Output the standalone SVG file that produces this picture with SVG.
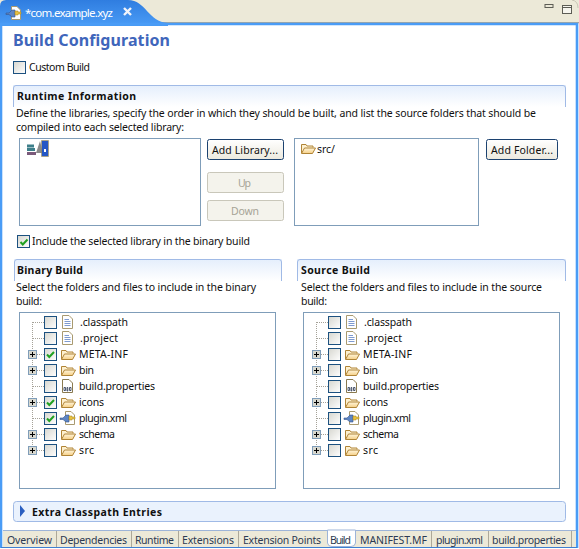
<svg xmlns="http://www.w3.org/2000/svg" xmlns:xlink="http://www.w3.org/1999/xlink" width="579" height="549" viewBox="0 0 579 549">
<style>
text{font-family:"Noto Sans","DejaVu Sans",sans-serif;font-size:10.500px;fill:#101010}
.b{font-weight:700}
.g{fill:#a6a396}
.tab{fill:#2c3a52}
.cb{fill:url(#cbg);stroke:#1c5180;stroke-width:1}
.list{fill:#fff;stroke:#7f9db9;stroke-width:1}
.sec{fill:url(#sg);stroke:none}
.edge{fill:none;stroke:#a0bae6;stroke-width:1}
.btn{fill:url(#bg);stroke:#1c4270;stroke-width:1}
.off{fill:#f4f3ec;stroke:#c9c7ba;stroke-width:1}
.dot{stroke:#a5a298;stroke-width:1;stroke-dasharray:1 1;fill:none}
.sep{stroke:#aca899;stroke-width:1}
</style>
<defs>
<linearGradient id="sg" x1="0" y1="0" x2="0" y2="1"><stop offset="0" stop-color="#e4eefc"/><stop offset="1" stop-color="#fff"/></linearGradient>
<linearGradient id="cbg" x1="0" y1="0" x2="1" y2="1"><stop offset="0" stop-color="#d6d6cf"/><stop offset="1" stop-color="#fff"/></linearGradient>
<linearGradient id="bg" x1="0" y1="0" x2="0" y2="1"><stop offset="0" stop-color="#fff"/><stop offset="1" stop-color="#ece9de"/></linearGradient>
<linearGradient id="tg" x1="0" y1="0" x2="0" y2="1"><stop offset="0" stop-color="#2f7de0"/><stop offset="1" stop-color="#4a9cf6"/></linearGradient>
<linearGradient id="fg" x1="0" y1="0" x2="0" y2="1"><stop offset="0" stop-color="#fff6dc"/><stop offset="1" stop-color="#f6cf86"/></linearGradient>
<symbol id="folder" overflow="visible"><path d="M1.500 11V2.500H6L7 4H13V5.500" fill="#fdf0cf" stroke="#b08436"/><path d="M1.500 11.500L4.500 6H15.500L12.500 11.500Z" fill="url(#fg)" stroke="#b08436"/></symbol>
<symbol id="file" overflow="visible"><path d="M1.500 .5H8L11.500 4V13.500H1.500Z" fill="#fff" stroke="#a99a70"/><path d="M3.500 4.500H8M3.500 6.500H9.500M3.500 8.500H9.500M3.500 10.500H9.500" stroke="#7f9bd0"/></symbol>
<symbol id="propfile" overflow="visible"><path d="M1.500 .5H8L11.500 4V13.500H1.500Z" fill="#fff" stroke="#8a7a50"/><path d="M3 8.500h1.500v3H3zM6 8.500h.8v3.500H6zM8.500 8.500H10v3H8.500z" fill="none" stroke="#26344f" stroke-width=".8"/></symbol>
<symbol id="plug" overflow="visible"><path d="M5.500 .5H11L14.500 4V13.500H5.500Z" fill="#fff" stroke="#a99a70"/><path d="M0 7h3l3-3h3v7H6L3 8.500H0Z" fill="#5d85c4" stroke="#36558c" stroke-width=".6"/><path d="M9 5h3v1h3v2h-3v1H9Z" fill="#e6c043" stroke="#a58420" stroke-width=".5"/></symbol>
<symbol id="plus" overflow="visible"><rect x=".5" y=".5" width="8" height="8" fill="#d8d8cf" stroke="#7f9db9"/><path d="M2 4.500H7M4.500 2V7" stroke="#000"/></symbol>
<symbol id="check" overflow="visible"><path d="M3 6.500L5.300 9L10 4" fill="none" stroke="#21a121" stroke-width="2"/></symbol>
</defs>

<g id="chrome">
<rect width="579" height="549" fill="#fff"/>
<rect width="579" height="24" fill="#ece9d8"/>
<path d="M0 22.500H579" stroke="#aca899"/>
<path d="M0 25V6Q0 0 6 0H128C146 0 148 22 168 23V26H0Z" fill="url(#tg)"/>
<path d="M1 548V24H577V548" fill="none" stroke="#4a9cf6" stroke-width="2.600"/>
<path d="M1 547.500H577" stroke="#3f7fd0" stroke-width="1"/>
<path d="M572 0Q578 1 578 8" stroke="#c8c5b5" fill="none"/>
</g>

<g id="editor-tab">
<use xlink:href="#plug" x="6" y="6"/>
<text x="25" y="17" style="font-size:11.500px;fill:#fff" textLength="88">*com.example.xyz</text>
<path d="M124 8L131 15M131 8L124 15" stroke="#f1f4fa" stroke-width="2.400"/>
</g>

<g id="view-controls">
<rect x="545" y="4.500" width="8" height="3" fill="#ece9d8" stroke="#5d5d55"/>
<rect x="562.500" y="5.500" width="9" height="8" fill="#f6f5ee" stroke="#5d5d55"/>
<path d="M562.500 7.500H571.500" stroke="#5d5d55"/>
</g>

<g id="page-title"><text x="13" y="46" class="b" style="font-size:16px;fill:#3f66bb" textLength="157">Build Configuration</text></g>

<g id="custom-build">
<rect x="13.500" y="61.500" width="12" height="12" class="cb"/>
<text x="29" y="71" textLength="61">Custom Build</text>
</g>

<g id="runtime-section">
<rect x="13" y="85" width="553" height="22" class="sec"/>
<path class="edge" d="M13.500 107V88Q13.500 85.500 16 85.500H563Q565.500 85.500 565.500 88V107"/>
<text x="17" y="100" class="b" textLength="119">Runtime Information</text>
<text x="16" y="117" textLength="520">Define the libraries, specify the order in which they should be built, and list the source folders that should be</text>
<text x="16" y="131" textLength="168">compiled into each selected library:</text>
</g>

<g id="library-list">
<rect x="19.500" y="138.500" width="181" height="87" class="list"/>
<path d="M27 148h8v3h-8zM27 144.500h7v3h-7z" fill="#3d7f8a"/>
<path d="M27 152h9v3h-9z" fill="#7a5a7a"/>
<path d="M36 153L40 141L43 153Z" fill="#8a8a8a"/>
<rect x="41.500" y="140.500" width="7" height="16" fill="#2457c5" stroke="#b89a3a" stroke-dasharray="1 1"/>
<rect x="44" y="149" width="2" height="3" fill="#fff"/>
</g>

<g id="add-library">
<rect x="207.500" y="139.500" width="76" height="20" rx="2" class="btn"/>
<text x="212" y="154" textLength="66">Add Library...</text>
</g>
<g id="up">
<rect x="207.500" y="172.500" width="76" height="20" rx="2" class="off"/>
<text x="238" y="187" class="g" textLength="13">Up</text>
</g>
<g id="down">
<rect x="207.500" y="200.500" width="76" height="20" rx="2" class="off"/>
<text x="231" y="215" class="g" textLength="28">Down</text>
</g>

<g id="folder-list">
<rect x="294.500" y="138.500" width="184" height="87" class="list"/>
<use xlink:href="#folder" x="300" y="142"/>
<text x="317" y="153" textLength="18">src/</text>
</g>
<g id="add-folder">
<rect x="486.500" y="139.500" width="71" height="20" rx="2" class="btn"/>
<text x="491" y="154" textLength="62">Add Folder...</text>
</g>

<g id="include-selected">
<rect x="17.500" y="235.500" width="12" height="12" class="cb"/>
<use xlink:href="#check" x="17.500" y="235.500"/>
<text x="32" y="245" textLength="218">Include the selected library in the binary build</text>
</g>

<g id="binary-section">
<rect x="14" y="259" width="268" height="22" class="sec"/>
<path class="edge" d="M14.500 281V262Q14.500 259.500 17 259.500H279Q281.500 259.500 281.500 262V281"/>
<text x="17" y="274" class="b" textLength="66">Binary Build</text>
<text x="16" y="291" textLength="240">Select the folders and files to include in the binary</text>
<text x="16" y="305" textLength="26">build:</text>
</g>

<g id="binary-tree">
<rect x="19.500" y="312.500" width="256" height="176" class="list"/>
<path class="dot" d="M32.500 322V450M33 322.500H44M33 338.500H44M37 354.500H44M37 370.500H44M33 386.500H44M37 402.500H44M33 418.500H44M37 434.500H44M37 450.500H44"/>
<use xlink:href="#plus" x="28" y="350"/><use xlink:href="#plus" x="28" y="366"/><use xlink:href="#plus" x="28" y="398"/><use xlink:href="#plus" x="28" y="430"/><use xlink:href="#plus" x="28" y="446"/>
<rect x="44.500" y="316.500" width="12" height="12" class="cb"/><rect x="44.500" y="332.500" width="12" height="12" class="cb"/><rect x="44.500" y="348.500" width="12" height="12" class="cb"/><rect x="44.500" y="364.500" width="12" height="12" class="cb"/><rect x="44.500" y="380.500" width="12" height="12" class="cb"/><rect x="44.500" y="396.500" width="12" height="12" class="cb"/><rect x="44.500" y="412.500" width="12" height="12" class="cb"/><rect x="44.500" y="428.500" width="12" height="12" class="cb"/><rect x="44.500" y="444.500" width="12" height="12" class="cb"/>
<use xlink:href="#check" x="44" y="348"/><use xlink:href="#check" x="44" y="396"/><use xlink:href="#check" x="44" y="412"/>
<use xlink:href="#file" x="61" y="315"/><use xlink:href="#file" x="61" y="331"/><use xlink:href="#folder" x="60" y="348"/><use xlink:href="#folder" x="60" y="364"/><use xlink:href="#propfile" x="61" y="379"/><use xlink:href="#folder" x="60" y="396"/><use xlink:href="#plug" x="60" y="411"/><use xlink:href="#folder" x="60" y="428"/><use xlink:href="#folder" x="60" y="444"/>
<text x="80" y="326" textLength="48">.classpath</text>
<text x="80" y="342" textLength="38">.project</text>
<text x="79" y="358" textLength="49">META-INF</text>
<text x="79" y="374" textLength="15">bin</text>
<text x="79" y="390" textLength="76">build.properties</text>
<text x="79" y="406" textLength="25">icons</text>
<text x="79" y="422" textLength="48">plugin.xml</text>
<text x="79" y="438" textLength="36">schema</text>
<text x="79" y="454" textLength="15">src</text>
</g>

<g id="source-section">
<rect x="297" y="259" width="269" height="22" class="sec"/>
<path class="edge" d="M297.500 281V262Q297.500 259.500 300 259.500H563Q565.500 259.500 565.500 262V281"/>
<text x="301" y="274" class="b" textLength="69">Source Build</text>
<text x="301" y="291" textLength="241">Select the folders and files to include in the source</text>
<text x="301" y="305" textLength="26">build:</text>
</g>

<g id="source-tree">
<rect x="303.500" y="312.500" width="256" height="176" class="list"/>
<path class="dot" d="M316.500 322V450M317 322.500H328M317 338.500H328M321 354.500H328M321 370.500H328M317 386.500H328M321 402.500H328M317 418.500H328M321 434.500H328M321 450.500H328"/>
<use xlink:href="#plus" x="312" y="350"/><use xlink:href="#plus" x="312" y="366"/><use xlink:href="#plus" x="312" y="398"/><use xlink:href="#plus" x="312" y="430"/><use xlink:href="#plus" x="312" y="446"/>
<rect x="328.500" y="316.500" width="12" height="12" class="cb"/><rect x="328.500" y="332.500" width="12" height="12" class="cb"/><rect x="328.500" y="348.500" width="12" height="12" class="cb"/><rect x="328.500" y="364.500" width="12" height="12" class="cb"/><rect x="328.500" y="380.500" width="12" height="12" class="cb"/><rect x="328.500" y="396.500" width="12" height="12" class="cb"/><rect x="328.500" y="412.500" width="12" height="12" class="cb"/><rect x="328.500" y="428.500" width="12" height="12" class="cb"/><rect x="328.500" y="444.500" width="12" height="12" class="cb"/>
<use xlink:href="#file" x="345" y="315"/><use xlink:href="#file" x="345" y="331"/><use xlink:href="#folder" x="344" y="348"/><use xlink:href="#folder" x="344" y="364"/><use xlink:href="#propfile" x="345" y="379"/><use xlink:href="#folder" x="344" y="396"/><use xlink:href="#plug" x="344" y="411"/><use xlink:href="#folder" x="344" y="428"/><use xlink:href="#folder" x="344" y="444"/>
<text x="364" y="326" textLength="48">.classpath</text>
<text x="364" y="342" textLength="38">.project</text>
<text x="363" y="358" textLength="49">META-INF</text>
<text x="363" y="374" textLength="15">bin</text>
<text x="363" y="390" textLength="76">build.properties</text>
<text x="363" y="406" textLength="25">icons</text>
<text x="363" y="422" textLength="48">plugin.xml</text>
<text x="363" y="438" textLength="36">schema</text>
<text x="363" y="454" textLength="15">src</text>
</g>

<g id="extra-classpath">
<rect x="13.500" y="501.500" width="552" height="20" rx="3" fill="#eaf2fd" stroke="#a0bae6"/>
<path d="M20 505L25 511L20 517Z" fill="#2b5fc0"/>
<text x="32" y="516" class="b" textLength="130">Extra Classpath Entries</text>
</g>

<g id="page-tabs">
<rect x="3" y="530" width="573" height="17" fill="#ece9d8"/>
<path d="M3 530.500H327M355 530.500H576" stroke="#9db4d8"/>
<path d="M327.500 530V543Q328 546.500 332 546.500H351Q355 546.500 355.500 543V530Z" fill="#fff" stroke="#9db4d8"/>
<path class="sep" d="M56.500 531V547M131.500 531V547M178.500 531V547M238.500 531V547M431.500 531V547M488.500 531V547M571.500 531V547"/>
<text x="7" y="544" class="tab" textLength="45">Overview</text>
<text x="60" y="544" class="tab" textLength="67">Dependencies</text>
<text x="135" y="544" class="tab" textLength="39">Runtime</text>
<text x="182" y="544" class="tab" textLength="52">Extensions</text>
<text x="243" y="544" class="tab" textLength="78">Extension Points</text>
<text x="330" y="544" class="tab" textLength="21">Build</text>
<text x="360" y="544" class="tab" textLength="67">MANIFEST.MF</text>
<text x="436" y="544" class="tab" textLength="47">plugin.xml</text>
<text x="492" y="544" class="tab" textLength="74">build.properties</text>
</g>
</svg>
